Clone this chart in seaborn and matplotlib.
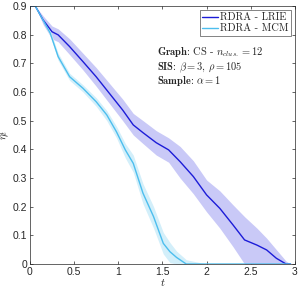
import numpy as np
import pandas as pd
import matplotlib
matplotlib.use("Agg")
import matplotlib.pyplot as plt
import seaborn as sns

# ── data ────────────────────────────────────────────────────────────────────
t_lrie = [0, 0.06, 0.15, 0.25, 0.32, 0.45, 0.6, 0.75, 0.9, 1.05, 1.17, 1.28, 1.43,
          1.57, 1.7, 1.85, 2.0, 2.15, 2.3, 2.43, 2.57, 2.68, 2.79, 2.9, 2.95]
eta_lrie = [0.9, 0.9, 0.851, 0.81, 0.799, 0.758, 0.706, 0.653, 0.595, 0.537, 0.485, 0.458, 0.423,
            0.398, 0.357, 0.305, 0.241, 0.194, 0.136, 0.084, 0.066, 0.049, 0.020, 0.0, 0.0]
lo_lrie = [0.9, 0.9, 0.835, 0.785, 0.775, 0.73, 0.677, 0.62, 0.56, 0.50, 0.45, 0.42, 0.38,
           0.355, 0.30, 0.245, 0.182, 0.125, 0.06, 0.0, 0.0, 0.0, 0.0, 0.0, 0.0]
hi_lrie = [0.9, 0.9, 0.865, 0.83, 0.82, 0.785, 0.735, 0.685, 0.63, 0.575, 0.525, 0.50, 0.465,
           0.44, 0.41, 0.36, 0.293, 0.255, 0.206, 0.165, 0.125, 0.09, 0.05, 0.01, 0.0]

t_mcm = [0, 0.06, 0.15, 0.23, 0.32, 0.45, 0.6, 0.75, 0.87, 0.98, 1.08, 1.17, 1.28,
         1.4, 1.51, 1.585, 1.66, 1.77, 2.0, 2.5, 2.95]
eta_mcm = [0.9, 0.9, 0.85, 0.805, 0.723, 0.653, 0.613, 0.566, 0.52, 0.461, 0.398, 0.351, 0.247,
           0.165, 0.072, 0.043, 0.023, 0.0, 0.0, 0.0, 0.0]
lo_mcm = [0.9, 0.9, 0.845, 0.795, 0.71, 0.64, 0.60, 0.55, 0.50, 0.44, 0.37, 0.32, 0.21,
          0.125, 0.035, 0.005, 0.0, 0.0, 0.0, 0.0, 0.0]
hi_mcm = [0.9, 0.9, 0.855, 0.815, 0.735, 0.665, 0.625, 0.58, 0.535, 0.48, 0.42, 0.38, 0.28,
          0.2, 0.11, 0.075, 0.045, 0.015, 0.0, 0.0, 0.0]

x_ticks = [0, 0.5, 1, 1.5, 2, 2.5, 3]
y_ticks = [0, 0.1, 0.2, 0.3, 0.4, 0.5, 0.6, 0.7, 0.8, 0.9]
x_labels = ["0", "0.5", "1", "1.5", "2", "2.5", "3"]
y_labels = ["0", "0.1", "0.2", "0.3", "0.4", "0.5", "0.6", "0.7", "0.8", "0.9"]

COLORS = {"RDRA - LRIE": "#1c1cd8", "RDRA - MCM": "#4dbeee"}
BANDS = {"RDRA - LRIE": "#c9c9f7", "RDRA - MCM": "#d3effa"}

info_lines = [
    r"$\mathbf{Graph}$: CS - $n_{clus.}=12$",
    r"$\mathbf{SIS}$: $\beta=3$, $\rho=105$",
    r"$\mathbf{Sample}$: $\alpha=1$",
]

df = pd.concat([
    pd.DataFrame({"t": t_lrie, "eta": eta_lrie, "method": "RDRA - LRIE"}),
    pd.DataFrame({"t": t_mcm, "eta": eta_mcm, "method": "RDRA - MCM"}),
])

sns.set_style("ticks")
plt.rcParams["font.family"] = ["Liberation Sans", "DejaVu Sans"]
plt.rcParams["mathtext.fontset"] = "cm"

fig = plt.figure(figsize=(3.05, 2.95), dpi=100)
ax = fig.add_axes([0.098, 0.105, 0.869, 0.875])

ax.fill_between(t_lrie, lo_lrie, hi_lrie, color=BANDS["RDRA - LRIE"], linewidth=0)
ax.fill_between(t_mcm, lo_mcm, hi_mcm, color=BANDS["RDRA - MCM"], linewidth=0)
sns.lineplot(data=df, x="t", y="eta", hue="method", palette=COLORS, ax=ax,
             linewidth=1.0, estimator=None, sort=False)

ax.set_xlim(0, 3)
ax.set_ylim(0, 0.9)
ax.set_xticks(x_ticks)
ax.set_xticklabels(x_labels)
ax.set_yticks(y_ticks)
ax.set_yticklabels(y_labels)
ax.tick_params(direction="in", length=2.5, width=0.5, labelsize=7.5, colors="#262626",
               top=True, right=True, pad=2)
for s in ax.spines.values():
    s.set_linewidth(0.5)
    s.set_color("#262626")
ax.set_xlabel(r"$t$", fontsize=8, labelpad=0)
ax.set_ylabel(r"$\eta_t$", fontsize=8, labelpad=1)

handles, labels = ax.get_legend_handles_labels()
leg = ax.legend(handles, labels, loc="upper right", prop={"family": "cmr10", "size": 7.5},
                frameon=True, fancybox=False, edgecolor="#262626", handlelength=1.5,
                handletextpad=0.15, borderpad=0.25, labelspacing=0.15, borderaxespad=0.4)
leg.get_frame().set_linewidth(0.5)

for line, yb in zip(info_lines, [0.808, 0.750, 0.697]):
    ax.text(0.478, yb, line, transform=ax.transAxes, fontsize=7.5, family="cmr10",
            va="baseline", ha="left")

plt.savefig("out.png", dpi=100)
plt.close()
